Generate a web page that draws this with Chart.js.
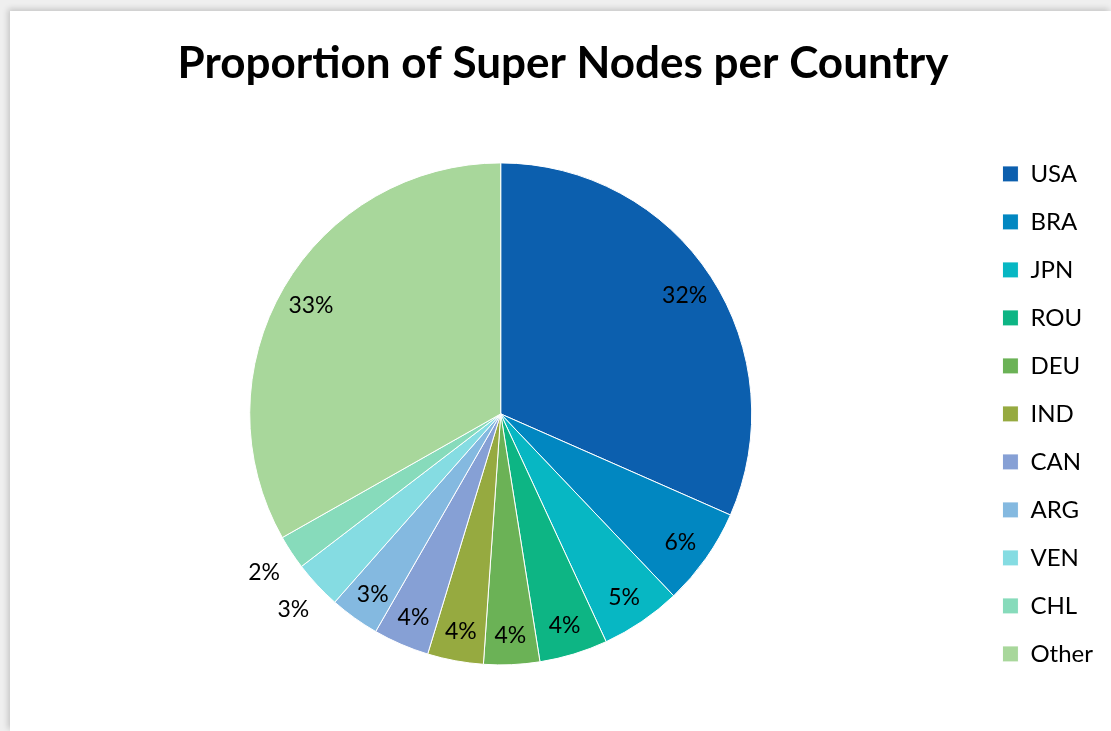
<!DOCTYPE html>
<html>
<head>
<meta charset="utf-8">
<script src="https://cdn.jsdelivr.net/npm/chart.js@4.4.0/dist/chart.umd.min.js"></script>
<style>
  html, body { margin: 0; padding: 0; width: 1111px; height: 731px; overflow: hidden; background: #efefef; }
  #panel { position: absolute; left: 10px; top: 11px; width: 1101px; height: 720px; background: #ffffff;
           box-shadow: -2px -2px 6px rgba(0,0,0,0.18); }
  #chart { position: absolute; left: 0; top: 0; }
</style>
</head>
<body>
<div id="panel"><canvas id="chart" width="1101" height="720"></canvas></div>
<script>
// ---- data ----
const categories = ['USA', 'BRA', 'JPN', 'ROU', 'DEU', 'IND', 'CAN', 'ARG', 'VEN', 'CHL', 'Other'];
const shares     = [31.6, 6.3, 5.2, 4.4, 3.6, 3.6, 3.6, 3.2, 3.1, 2.2, 33.2];
const chartTitle = 'Proportion of Super Nodes per Country';

// ---- styling ----
const sliceColors = ['#0C5FAE', '#0187C1', '#07B7C3', '#0DB584', '#6BB256', '#96AA40',
                     '#86A0D5', '#84B9E0', '#85DCE2', '#87DBBB', '#A8D79B'];
const outsideLabels = ['VEN', 'CHL'];
const FONT = 'Lato, "Open Sans", sans-serif';

const total = shares.reduce((a, b) => a + b, 0);

const pieLabels = {
  id: 'pieLabels',
  afterDatasetsDraw(chart) {
    const ctx = chart.ctx;
    const meta = chart.getDatasetMeta(0);
    ctx.save();
    ctx.font = '23px ' + FONT;
    ctx.fillStyle = '#000';
    ctx.textAlign = 'center';
    ctx.textBaseline = 'middle';
    meta.data.forEach((arc, i) => {
      const p = arc.getProps(['x', 'y', 'startAngle', 'endAngle', 'outerRadius'], true);
      const mid = (p.startAngle + p.endAngle) / 2;
      const outside = outsideLabels.includes(categories[i]);
      const r = p.outerRadius * (outside ? 1.13 : 0.875);
      const txt = Math.round(shares[i] / total * 100) + '%';
      ctx.fillText(txt, p.x + Math.cos(mid) * r, p.y + Math.sin(mid) * r + 2);
    });
    ctx.restore();
  }
};

new Chart(document.getElementById('chart'), {
  type: 'pie',
  data: {
    labels: categories,
    datasets: [{
      data: shares,
      backgroundColor: sliceColors,
      borderColor: '#ffffff',
      borderWidth: 1,
      radius: 251
    }]
  },
  options: {
    responsive: false,
    animation: false,
    devicePixelRatio: 1,
    layout: { padding: { left: 13, right: 8, top: 0, bottom: 33 } },
    plugins: {
      title: {
        display: true,
        text: chartTitle,
        color: '#000',
        font: { family: FONT, size: 44, weight: 'bold' },
        padding: { top: 26, bottom: 40 }
      },
      legend: {
        position: 'right',
        fullSize: false,
        labels: {
          boxWidth: 16,
          boxHeight: 16,
          padding: 24,
          color: '#000',
          font: { family: FONT, size: 24 }
        }
      },
      tooltip: { enabled: false }
    }
  },
  plugins: [pieLabels]
});
</script>
</body>
</html>
